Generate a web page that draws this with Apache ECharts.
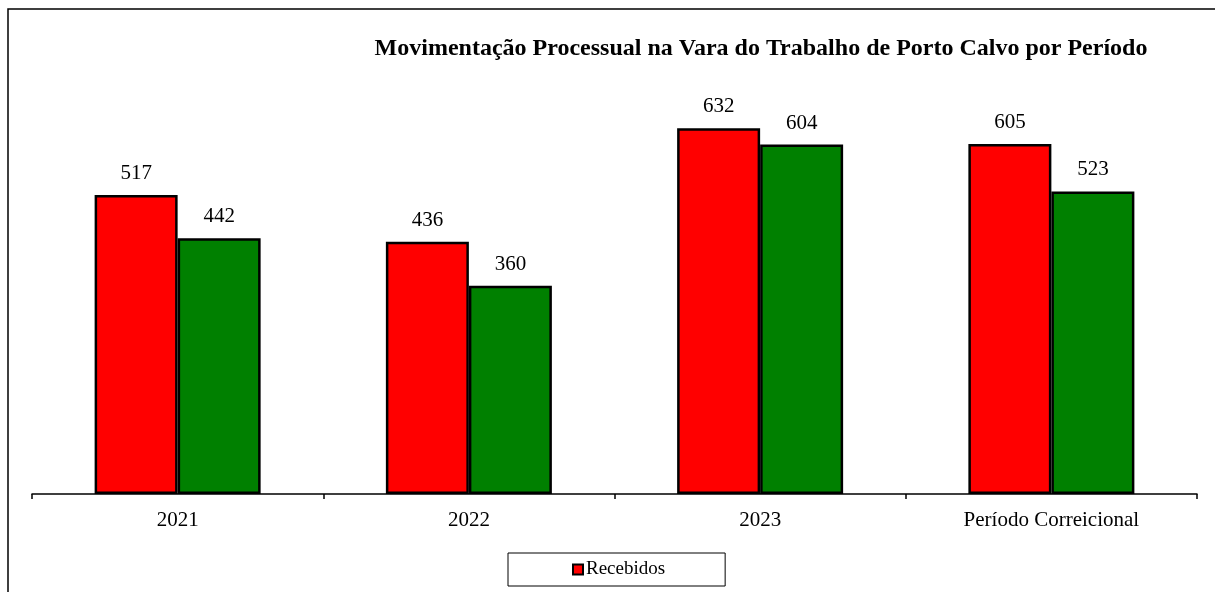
<!DOCTYPE html>
<html>
<head>
<meta charset="utf-8">
<script src="https://cdn.jsdelivr.net/npm/echarts@6/dist/echarts.min.js"></script>
<style>
  html, body { margin: 0; padding: 0; background: #fff; }
  #main { width: 1215px; height: 592px; }
</style>
</head>
<body>
<div id="main"></div>
<script>
var categories = ['2021', '2022', '2023', 'Período Correicional'];
var recebidos = [517, 436, 632, 605];
var solucionados = [442, 360, 604, 523];

var serif = '"Liberation Serif", "DejaVu Serif", serif';

var myChart = echarts.init(document.getElementById('main'));
var option = {
  animation: false,
  backgroundColor: '#fff',
  title: {
    text: 'Movimentação Processual na Vara do Trabalho de Porto Calvo por Período',
    left: 756,
    textAlign: 'center',
    top: 32,
    textStyle: { fontFamily: serif, fontSize: 24, fontWeight: 'bold', color: '#000' }
  },
  graphic: [{
    type: 'rect',
    shape: { x: 8, y: 9, width: 1400, height: 800 },
    style: { fill: 'none', stroke: '#000', lineWidth: 1.5 },
    silent: true
  }],
  legend: {
    data: ['Recebidos'],
    left: 508,
    top: 553,
    padding: [7, 60, 7, 64],
    borderColor: '#000',
    borderWidth: 1,
    itemWidth: 10,
    itemHeight: 10,
    itemGap: 4,
    icon: 'rect',
    itemStyle: { borderColor: '#000', borderWidth: 2 },
    textStyle: { fontFamily: serif, fontSize: 19, color: '#000', padding: [0, 0, 0, -2] }
  },
  grid: { left: 32, right: 18, top: 89, bottom: 98, containLabel: false },
  xAxis: {
    type: 'category',
    data: categories,
    axisLine: { lineStyle: { color: '#000', width: 1.5 } },
    axisTick: { show: true, length: 5, lineStyle: { color: '#000', width: 1.5 } },
    axisLabel: { fontFamily: serif, fontSize: 21, color: '#000', margin: 16 }
  },
  yAxis: {
    type: 'value',
    min: 0,
    max: 700,
    show: false,
    splitLine: { show: false }
  },
  series: [
    {
      name: 'Recebidos',
      type: 'bar',
      data: recebidos,
      barWidth: 83,
      barGap: '0%',
      itemStyle: { color: '#ff0000', borderColor: '#000', borderWidth: 2.5 },
      label: { show: true, position: 'top', distance: 11, fontFamily: serif, fontSize: 21, color: '#000' }
    },
    {
      name: 'Solucionados',
      type: 'bar',
      data: solucionados,
      barWidth: 83,
      barGap: '0%',
      itemStyle: { color: '#008000', borderColor: '#000', borderWidth: 2.5 },
      label: { show: true, position: 'top', distance: 11, fontFamily: serif, fontSize: 21, color: '#000' }
    }
  ]
};
myChart.setOption(option);
</script>
</body>
</html>
